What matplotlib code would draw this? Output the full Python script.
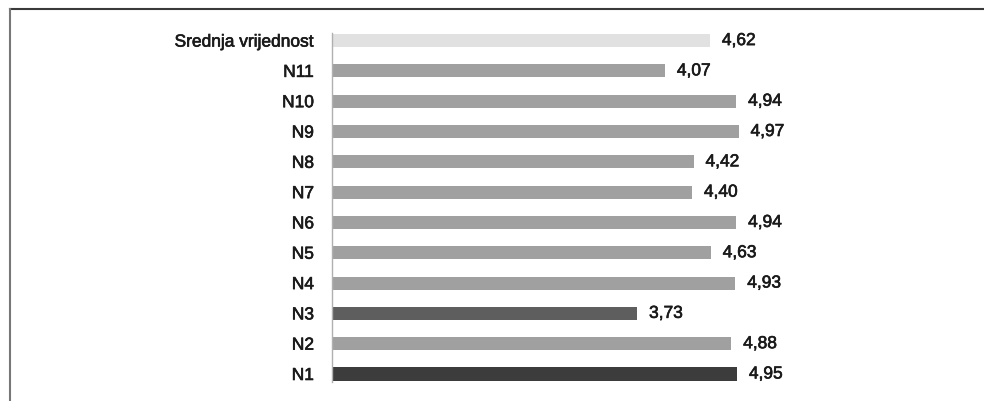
import matplotlib
matplotlib.use("Agg")
import matplotlib.pyplot as plt
from matplotlib.lines import Line2D
import matplotlib.patheffects as pe

categories = ["N1", "N2", "N3", "N4", "N5", "N6", "N7", "N8", "N9", "N10", "N11", "Srednja vrijednost"]
values = [4.95, 4.88, 3.73, 4.93, 4.63, 4.94, 4.40, 4.42, 4.97, 4.94, 4.07, 4.62]
colors = ["#3c3c3c", "#a0a0a0", "#5e5e5e", "#a0a0a0", "#a0a0a0", "#a0a0a0",
          "#a0a0a0", "#a0a0a0", "#a0a0a0", "#a0a0a0", "#a0a0a0", "#e1e1e1"]
labels = ["4,95", "4,88", "3,73", "4,93", "4,63", "4,94", "4,40", "4,42", "4,97", "4,94", "4,07", "4,62"]

plt.rcParams['font.family'] = ['Liberation Sans', 'DejaVu Sans']

W, H = 984, 402
fig = plt.figure(figsize=(W / 100, H / 100), dpi=100)

left_px, right_px = 332, 823
top_px, bottom_px = 34, 383
ax = fig.add_axes([left_px / W, (H - bottom_px) / H, (right_px - left_px) / W, (bottom_px - top_px) / H])

heavy = [pe.withStroke(linewidth=0.45, foreground="#1a1a1a")]

ypos = list(range(len(categories)))
ax.barh(ypos, values, height=0.43, color=colors, edgecolor="none")
for y, v, lab in zip(ypos, values, labels):
    ax.annotate(lab, xy=(v, y), xytext=(8.5, 0), textcoords="offset points",
                ha="left", va="center", fontsize=12.5, color="#1a1a1a",
                path_effects=heavy)

ax.set_xlim(0, 6)
ax.set_ylim(-0.264, 11.25)
ax.set_yticks(ypos)
ax.set_yticklabels(categories, fontsize=12.5, color="#1a1a1a")
for t in ax.get_yticklabels():
    t.set_path_effects(heavy)
ax.tick_params(axis="y", length=0, pad=13)
ax.set_xticks([])
for s in ["top", "right", "bottom"]:
    ax.spines[s].set_visible(False)
ax.spines["left"].set_color("#b0b0b0")
ax.spines["left"].set_linewidth(1.0)

# outer frame (cropped: only top and left visible)
fig.add_artist(Line2D([10 / W, 1.0], [1 - 10 / H, 1 - 10 / H], transform=fig.transFigure,
                      color="#3a3a3a", linewidth=1.5))
fig.add_artist(Line2D([10 / W, 10 / W], [0.0, 1 - 10 / H], transform=fig.transFigure,
                      color="#777777", linewidth=1.5))

fig.savefig("out.png", dpi=100)
